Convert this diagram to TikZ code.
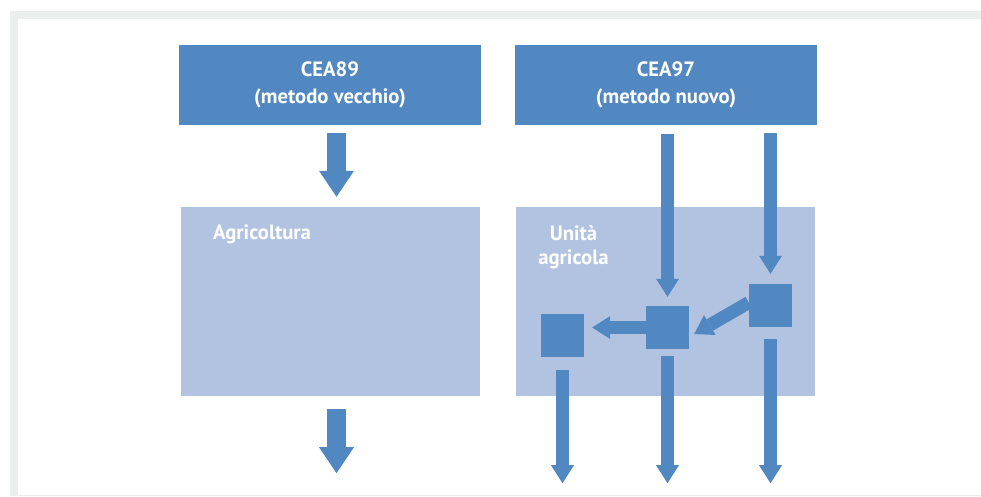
\documentclass[tikz,border=0pt]{standalone}
\usepackage{fontspec}
\setmainfont{PT Sans}
\usetikzlibrary{arrows.meta,calc}
\definecolor{dblue}{HTML}{5288C2}
\definecolor{lblue}{HTML}{B1C3E1}
\definecolor{framegray}{HTML}{ECEDED}
\begin{document}
\begin{tikzpicture}[x=1pt,y=-1pt,
  topbox/.style={fill=dblue,draw=none,minimum width=302pt,minimum height=80pt,inner sep=0pt,text=white,align=center,font=\bfseries\fontsize{20.7}{27}\selectfont},
  areabox/.style={fill=lblue,draw=none,minimum width=299pt,minimum height=189pt,inner sep=0pt},
  sqbox/.style={fill=dblue,draw=none,minimum size=43pt,inner sep=0pt},
  lbl/.style={text=white,font=\bfseries\fontsize{20.7}{24}\selectfont,inner sep=0pt,align=center},
  bigarrow/.style={draw=dblue,line width=19pt,line cap=butt,-{Triangle[width=35pt,length=26pt,line width=0pt]}},
  smallarrow/.style={draw=dblue,line width=13pt,line cap=butt,-{Triangle[width=23pt,length=18pt,line width=0pt]}},
]
\useasboundingbox (0,0) rectangle (981,496);
\fill[white] (0,0) rectangle (981,496);
% frame
\fill[framegray] (10,11) rectangle (981,19);
\fill[framegray] (10,11) rectangle (18,496);
\fill[framegray] (10,494.5) rectangle (981,496);
% boxes
\node[topbox] (cea89) at (330,85) {CEA89\\(metodo vecchio)};
\node[topbox] (cea97) at (666,85) {CEA97\\(metodo nuovo)};
\node[areabox] (agri) at (330.5,301.5) {};
\node[areabox] (unita) at (665.5,301.5) {};
\node[lbl,anchor=base west] (agrilbl) at (213,239) {Agricoltura};
\node[lbl] (unitalbl) at (573.5,247) {Unità\\agricola};
\node[sqbox] (sqR) at (770.5,305.5) {};
\node[sqbox] (sqM) at (667.5,327.5) {};
\node[sqbox] (sqL) at (562.5,335.5) {};
% left arrows
\coordinate (agriout) at ($(agri.south)+(6,77)$);
\draw[bigarrow] ($(cea89.south)+(6.5,8)$) -- ($(agri.north)+(6,-10)$);
\draw[bigarrow] ($(agri.south)+(6,13)$) -- (agriout);
% right arrows
\draw[smallarrow] ($(sqM.north |- cea97.south)+(0,9)$) -- ($(sqM.north)+(0,-9)$);
\draw[smallarrow] ($(sqR.north |- cea97.south)+(0,8)$) -- ($(sqR.north)+(0,-10)$);
\draw[smallarrow] (sqM.west) -- ($(sqL.east |- sqM.west)+(8,0)$);
\draw[smallarrow] ($(sqR.west)+(0,-3)$) -- ($(sqM.east)+(5,6.5)$);
\coordinate (outL) at ($(sqL.south)+(0,126)$);
\coordinate (outM) at ($(sqM.south)+(0,134)$);
\coordinate (outR) at ($(sqR.south)+(0,156)$);
\draw[smallarrow] ($(sqL.south)+(0,13)$) -- (outL);
\draw[smallarrow] ($(sqM.south)+(0,7)$) -- (outM);
\draw[smallarrow] ($(sqR.south)+(0,12)$) -- (outR);
\end{tikzpicture}
\end{document}
